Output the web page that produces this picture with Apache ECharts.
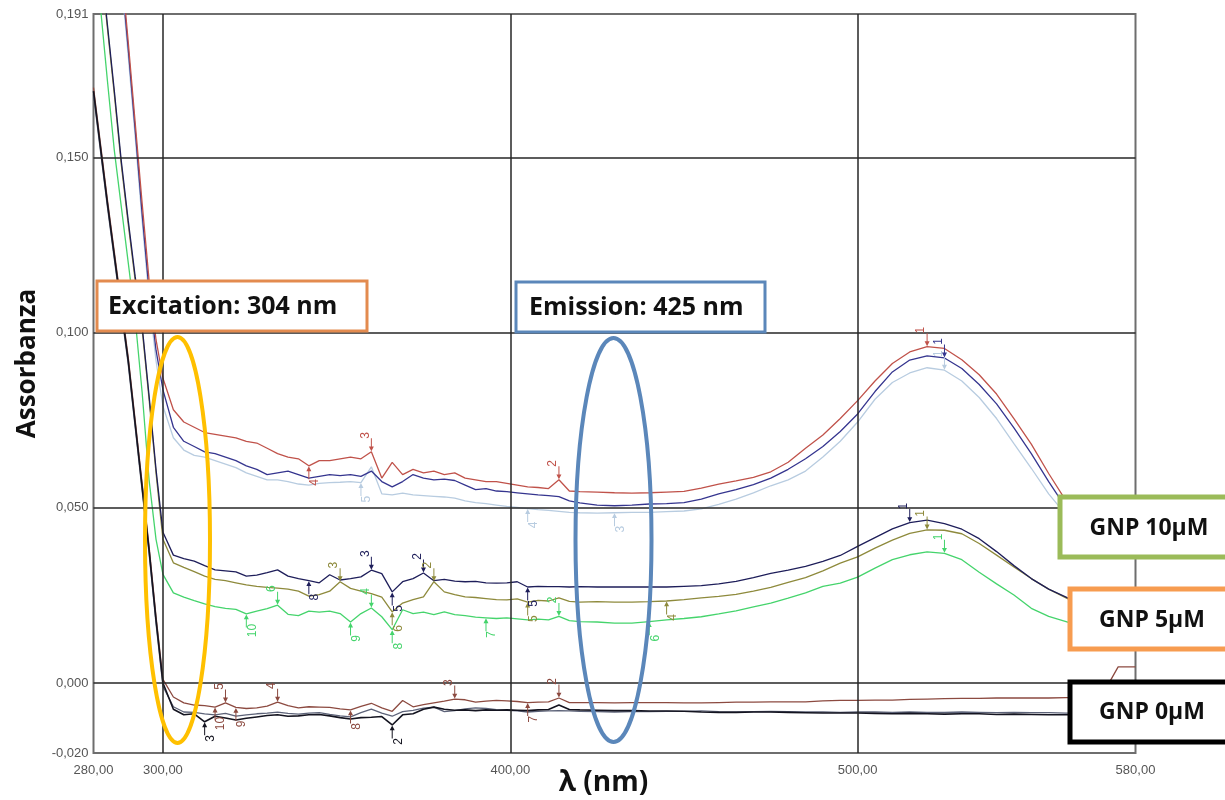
<!DOCTYPE html>
<html><head><meta charset="utf-8">
<script src="https://cdn.jsdelivr.net/npm/echarts@6/dist/echarts.min.js"></script>
<style>html,body{margin:0;padding:0;background:#fff}#c{width:1225px;height:800px}</style>
</head><body><div id="c"></div>
<script>
// Wavelengths (nm)
const WL = [280,282,284,286,288,290,292,294,296,298,300,
 303,306,309,312,315,318,321,324,327,330,333,336,339,342,345,348,351,354,357,360,363,366,369,372,375,378,381,384,387,390,393,396,399,402,405,408,411,414,417,420,
 425,430,435,440,445,450,455,460,465,470,475,480,485,490,495,500,505,510,515,520,525,530,535,540,545,550,555,560,565,570,575,580];

// GNP 10uM group
const A_red = [0.300,0.276,0.252,0.228,0.205,0.183,0.160,0.137,0.115,0.098,0.087,
 0.078,0.0745,0.073,0.0715,0.071,0.0705,0.070,0.069,0.0685,0.067,0.0655,0.0645,0.064,0.062,0.0635,0.0635,0.064,0.0645,0.064,0.066,0.0585,0.063,0.0595,0.061,0.060,0.0605,0.0595,0.060,0.0585,0.058,0.0575,0.0575,0.057,0.0565,0.056,0.0558,0.0555,0.058,0.0548,0.0546,
 0.0545,0.0543,0.0542,0.0543,0.0545,0.0547,0.0556,0.0568,0.0577,0.0587,0.0603,0.0630,0.0670,0.0708,0.0755,0.0806,0.0862,0.0912,0.0945,0.0960,0.0955,0.0923,0.0880,0.0825,0.0755,0.0682,0.0598,0.052,0.046,0.042,0.040,0.039];
const A_blue = [0.298,0.274,0.250,0.226,0.203,0.181,0.158,0.134,0.112,0.095,0.0837,
 0.073,0.069,0.0675,0.066,0.0655,0.0645,0.0635,0.062,0.061,0.0595,0.060,0.0605,0.0595,0.0585,0.059,0.0595,0.0592,0.0595,0.059,0.0605,0.0575,0.056,0.0575,0.0595,0.0585,0.058,0.0582,0.0578,0.0565,0.0552,0.0555,0.0548,0.0546,0.0543,0.054,0.0537,0.0535,0.0532,0.052,0.0514,
 0.0508,0.0506,0.0508,0.0511,0.0512,0.0515,0.0525,0.054,0.0552,0.0566,0.0585,0.061,0.064,0.0675,0.0718,0.0768,0.0832,0.0888,0.0922,0.0934,0.0928,0.0898,0.0852,0.0797,0.0728,0.0655,0.0575,0.050,0.044,0.040,0.038,0.037];
const A_light = [0.296,0.272,0.248,0.224,0.201,0.179,0.156,0.132,0.110,0.092,0.079,
 0.070,0.0665,0.065,0.0645,0.0635,0.0625,0.0615,0.060,0.059,0.058,0.058,0.0575,0.0568,0.0565,0.057,0.0572,0.0573,0.0575,0.0572,0.0617,0.054,0.0537,0.0542,0.0537,0.0535,0.0533,0.0531,0.0528,0.052,0.0515,0.0512,0.0508,0.0504,0.0501,0.0498,0.0495,0.0493,0.049,0.0487,0.0486,
 0.0485,0.0486,0.0487,0.0487,0.0489,0.0491,0.0497,0.051,0.0525,0.0543,0.0563,0.058,0.0605,0.0645,0.069,0.0745,0.081,0.0858,0.0885,0.0900,0.0893,0.0862,0.0815,0.0755,0.0683,0.0613,0.054,0.048,0.043,0.039,0.037,0.036];

// GNP 5uM group
const B_navy = [0.225,0.207,0.188,0.169,0.149,0.132,0.116,0.102,0.082,0.061,0.043,
 0.0365,0.0355,0.0348,0.0335,0.0323,0.032,0.0317,0.0305,0.0308,0.0315,0.0323,0.0305,0.0298,0.0292,0.0286,0.0309,0.0294,0.0298,0.0303,0.0322,0.0312,0.026,0.0289,0.0298,0.0314,0.0292,0.0296,0.0291,0.0289,0.029,0.0286,0.0285,0.0286,0.0289,0.0274,0.0276,0.0275,0.0275,0.0274,0.0275,
 0.0274,0.0274,0.0274,0.0274,0.0274,0.0276,0.0278,0.0283,0.029,0.0301,0.0313,0.0322,0.0333,0.0347,0.0364,0.039,0.0415,0.044,0.0458,0.0465,0.0455,0.0439,0.0412,0.0375,0.0335,0.0298,0.0268,0.0245,0.022,0.020,0.019,0.018];
const B_olive = [0.224,0.206,0.187,0.168,0.148,0.131,0.115,0.101,0.081,0.060,0.041,
 0.0343,0.033,0.0318,0.0305,0.0296,0.0292,0.0286,0.028,0.0276,0.0273,0.0271,0.0268,0.0262,0.0248,0.0252,0.0262,0.0289,0.027,0.0262,0.0255,0.0245,0.0203,0.0228,0.0238,0.0246,0.0289,0.026,0.0252,0.0246,0.0244,0.0241,0.0238,0.0237,0.024,0.0231,0.0236,0.0234,0.0243,0.0233,0.0231,
 0.0232,0.0231,0.0231,0.0232,0.0234,0.0238,0.0243,0.0247,0.0253,0.0262,0.0273,0.0287,0.0301,0.032,0.0342,0.036,0.0385,0.0408,0.0427,0.0437,0.0436,0.0426,0.0398,0.0365,0.0331,0.0298,0.0268,0.0243,0.022,0.020,0.019,0.018];
const B_green = [0.215,0.193,0.172,0.152,0.136,0.120,0.104,0.083,0.058,0.041,0.031,
 0.0257,0.0245,0.0235,0.0226,0.0218,0.0213,0.021,0.0197,0.0205,0.0212,0.0222,0.0196,0.0192,0.0205,0.0202,0.0205,0.0198,0.0174,0.0198,0.0214,0.0189,0.0152,0.0209,0.0198,0.0202,0.0195,0.0203,0.0195,0.0192,0.0188,0.0186,0.0184,0.0186,0.0183,0.018,0.0182,0.018,0.019,0.0178,0.0175,
 0.0174,0.0171,0.0171,0.0175,0.018,0.0184,0.0189,0.0197,0.0206,0.0217,0.0228,0.0242,0.0257,0.0276,0.0285,0.0302,0.0328,0.0352,0.0366,0.0374,0.037,0.0352,0.0316,0.0283,0.0251,0.0213,0.019,0.0175,0.016,0.0148,0.014,0.0135];

// GNP 0uM group
const C_brown = [0.170,0.154,0.138,0.123,0.108,0.093,0.075,0.057,0.039,0.019,0.001,
 -0.004,-0.0057,-0.0063,-0.0065,-0.0069,-0.0057,-0.007,-0.0073,-0.0071,-0.0066,-0.0055,-0.0065,-0.0071,-0.0068,-0.0069,-0.007,-0.0074,-0.0077,-0.0067,-0.0058,-0.0071,-0.0081,-0.005,-0.0068,-0.0062,-0.0057,-0.0052,-0.0046,-0.0048,-0.0055,-0.0052,-0.005,-0.0051,-0.0053,-0.0056,-0.0055,-0.0054,-0.0043,-0.0056,-0.0056,
 -0.0056,-0.0057,-0.0056,-0.0056,-0.0056,-0.0057,-0.0057,-0.0056,-0.0055,-0.0055,-0.0054,-0.0054,-0.0054,-0.0051,-0.005,-0.005,-0.0049,-0.0049,-0.0047,-0.0046,-0.0045,-0.0044,-0.0044,-0.0043,-0.0043,-0.0043,-0.0043,-0.0042,-0.0042,-0.0042,0.0046,0.0046];
const C_black = [0.169,0.153,0.137,0.122,0.107,0.092,0.074,0.056,0.038,0.018,0.0,
 -0.0075,-0.0091,-0.0088,-0.0111,-0.0095,-0.010,-0.0106,-0.0101,-0.0097,-0.0093,-0.0091,-0.0095,-0.0094,-0.0091,-0.009,-0.0094,-0.0099,-0.0103,-0.0099,-0.0098,-0.0096,-0.012,-0.0091,-0.0088,-0.0075,-0.0069,-0.0075,-0.0078,-0.0077,-0.0079,-0.0077,-0.0078,-0.0077,-0.0078,-0.0079,-0.0077,-0.0076,-0.0063,-0.0076,-0.0077,
 -0.0078,-0.0079,-0.0079,-0.008,-0.008,-0.0081,-0.0083,-0.0084,-0.0084,-0.0083,-0.0083,-0.0084,-0.0085,-0.0086,-0.0086,-0.0086,-0.0087,-0.0088,-0.0087,-0.0088,-0.0089,-0.0088,-0.0088,-0.009,-0.0089,-0.009,-0.0091,-0.0091,-0.0091,-0.0092,-0.0092,-0.0093];
const C_grey = [0.168,0.152,0.136,0.121,0.106,0.091,0.073,0.055,0.037,0.017,-0.001,
 -0.0068,-0.0083,-0.0084,-0.0088,-0.0091,-0.0087,-0.0095,-0.0091,-0.0088,-0.0086,-0.0083,-0.0087,-0.0089,-0.0086,-0.0085,-0.009,-0.0094,-0.0097,-0.0085,-0.0075,-0.0086,-0.0095,-0.0082,-0.0078,-0.0072,-0.0069,-0.0082,-0.0079,-0.0074,-0.0071,-0.0073,-0.0076,-0.0078,-0.008,-0.0083,-0.0081,-0.008,-0.0079,-0.008,-0.0081,
 -0.0082,-0.0083,-0.0082,-0.0082,-0.0081,-0.0081,-0.008,-0.0082,-0.0083,-0.0082,-0.0081,-0.0082,-0.0083,-0.0083,-0.0084,-0.0083,-0.0083,-0.0084,-0.0083,-0.0084,-0.0084,-0.0083,-0.0084,-0.0085,-0.0084,-0.0085,-0.0085,-0.0086,-0.0086,-0.0086,-0.0087,-0.0087];

// Peak-pick markers: [wavelength, label, 'up' | 'down']
const pk_A_red = [[520,'1','up'],[414,'2','up'],[360,'3','up'],[342,'4','down']];
const pk_A_blue = [[525,'1','up'],[429,'2','down']];
const pk_A_light = [[525,'1','up'],[430,'3','down'],[405,'4','down'],[357,'5','down']];
const pk_B_navy = [[515,'1','up'],[375,'2','up'],[360,'3','up'],[342,'8','down'],[366,'5','down'],[405,'5','down']];
const pk_B_olive = [[520,'1','up'],[378,'2','up'],[351,'3','up'],[445,'4','down'],[366,'6','down'],[405,'5','down']];
const pk_B_green = [[525,'1','up'],[414,'2','up'],[360,'4','up'],[333,'6','up'],[440,'6','down'],[393,'7','down'],[366,'8','down'],[354,'9','down'],[324,'10','down']];
const pk_C_brown = [[414,'2','up'],[384,'3','up'],[333,'4','up'],[318,'5','up'],[405,'7','down'],[354,'8','down'],[321,'9','down'],[315,'10','down']];
const pk_C_black = [[366,'2','down'],[312,'3','down']];

// Axis tick labels
const xTicks = [280,300,400,500,580];
const yTicks = [-0.02,0,0.05,0.1,0.15,0.191];
const xGrid = [300,400,500];
const yGrid = [0,0.05,0.1,0.15];

function mk(name, vals, color, peaks, width){
  const arrow = 'path://M4,0 L6,0 L6,10 L10,10 L5,16 L0,10 L4,10 Z';
  return {
    name, type:'line', data: WL.map((x,i)=>[x, vals[i]]), showSymbol:false, z:3,
    lineStyle:{color, width: width||1.3}, itemStyle:{color}, clip:true, silent:true,
    markPoint:{
      silent:true,
      data: peaks.map(p=>{
        const i = WL.indexOf(p[0]);
        const up = p[2]==='up';
        return {
          coord:[p[0], vals[i]],
          symbol: arrow, symbolSize:[5,13], symbolRotate: up?0:180,
          symbolOffset:[0, up?-7:7],
          itemStyle:{color},
          label:{show:true, formatter:p[1], rotate:90, color, fontSize:12,
                 fontFamily:'Liberation Sans', position: up?'top':'bottom', distance:3}
        };
      })
    }
  };
}

const chart = echarts.init(document.getElementById('c'), null, {renderer:'canvas'});
const fmtX = v => v.toFixed(2).replace('.', ',');
const fmtY = v => v.toFixed(3).replace('.', ',');
const boxFont = 'Open Sans';

chart.setOption({
  animation:false,
  backgroundColor:'#fff',
  grid:{left:93.5, right:89.5, top:14, bottom:47, outerBoundsMode:'none', show:true, borderColor:'#6e6e6e', borderWidth:2, backgroundColor:'transparent'},
  xAxis:{type:'value', min:280, max:580,
    name:'λ (nm)', nameLocation:'middle', nameGap:16, nameMoveOverlap:false,
    nameTextStyle:{fontFamily:boxFont, fontWeight:'bold', fontSize:28, color:'#111', padding:[0,22,0,0]},
    axisLine:{show:false}, axisTick:{show:false}, splitLine:{show:false},
    axisLabel:{customValues:xTicks, formatter:fmtX, color:'#555', fontSize:13, fontFamily:'Liberation Sans', margin:11}},
  yAxis:{type:'value', min:-0.02, max:0.191,
    name:'Assorbanza', nameLocation:'middle', nameGap:53, nameRotate:90,
    nameTextStyle:{fontFamily:boxFont, fontWeight:'bold', fontSize:26, color:'#111', padding:[0,0,0,40]},
    axisLine:{show:false}, axisTick:{show:false}, splitLine:{show:false},
    axisLabel:{customValues:yTicks, formatter:fmtY, color:'#555', fontSize:13, fontFamily:'Liberation Sans', margin:5}},
  series:[
    {type:'line', data:[], z:1, silent:true,
     markLine:{silent:true, symbol:['none','none'], label:{show:false},
       lineStyle:{color:'#262626', width:1.5, type:'solid'},
       data: xGrid.map(v=>({xAxis:v})).concat(yGrid.map(v=>({yAxis:v})))}},
    mk('A_light', A_light, '#b8cce0', pk_A_light),
    mk('A_blue', A_blue, '#35358f', pk_A_blue),
    mk('A_red', A_red, '#c0524a', pk_A_red),
    mk('B_green', B_green, '#45d46c', pk_B_green),
    mk('B_olive', B_olive, '#8e8a3c', pk_B_olive),
    mk('B_navy', B_navy, '#1e1e5a', pk_B_navy),
    mk('C_grey', C_grey, '#5c6278', []),
    mk('C_brown', C_brown, '#8c4a40', pk_C_brown),
    mk('C_black', C_black, '#141420', pk_C_black, 1.6)
  ],
  graphic:[
    {type:'rect', z:100, shape:{x:97, y:281, width:270, height:50}, style:{fill:'#fff', stroke:'#E38B4F', lineWidth:3}},
    {type:'text', z:101, x:108, y:307, style:{text:'Excitation: 304 nm', font:'bold 25px "Open Sans"', fill:'#111', textVerticalAlign:'middle'}},
    {type:'ellipse', z:100, shape:{cx:177.5, cy:540, rx:32.5, ry:203}, style:{fill:'none', stroke:'#FFC000', lineWidth:4}},
    {type:'rect', z:100, shape:{x:516, y:282, width:249, height:50}, style:{fill:'#fff', stroke:'#5B87BA', lineWidth:3}},
    {type:'text', z:101, x:529, y:308, style:{text:'Emission: 425 nm', font:'bold 25px "Open Sans"', fill:'#111', textVerticalAlign:'middle'}},
    {type:'ellipse', z:100, shape:{cx:613.5, cy:540, rx:38, ry:202}, style:{fill:'none', stroke:'#5B87BA', lineWidth:4}},
    {type:'rect', z:100, shape:{x:1060, y:497, width:200, height:60}, style:{fill:'#fff', stroke:'#9BBB59', lineWidth:5}},
    {type:'text', z:101, x:1149, y:528, style:{text:'GNP 10µM', font:'bold 23px "Open Sans"', fill:'#111', textAlign:'center', textVerticalAlign:'middle'}},
    {type:'rect', z:100, shape:{x:1070, y:589, width:200, height:60}, style:{fill:'#fff', stroke:'#F79C50', lineWidth:5}},
    {type:'text', z:101, x:1152, y:620, style:{text:'GNP 5µM', font:'bold 23px "Open Sans"', fill:'#111', textAlign:'center', textVerticalAlign:'middle'}},
    {type:'rect', z:100, shape:{x:1070, y:682, width:200, height:60}, style:{fill:'#fff', stroke:'#000', lineWidth:5}},
    {type:'text', z:101, x:1152, y:712, style:{text:'GNP 0µM', font:'bold 23px "Open Sans"', fill:'#111', textAlign:'center', textVerticalAlign:'middle'}}
  ]
});
</script></body></html>
